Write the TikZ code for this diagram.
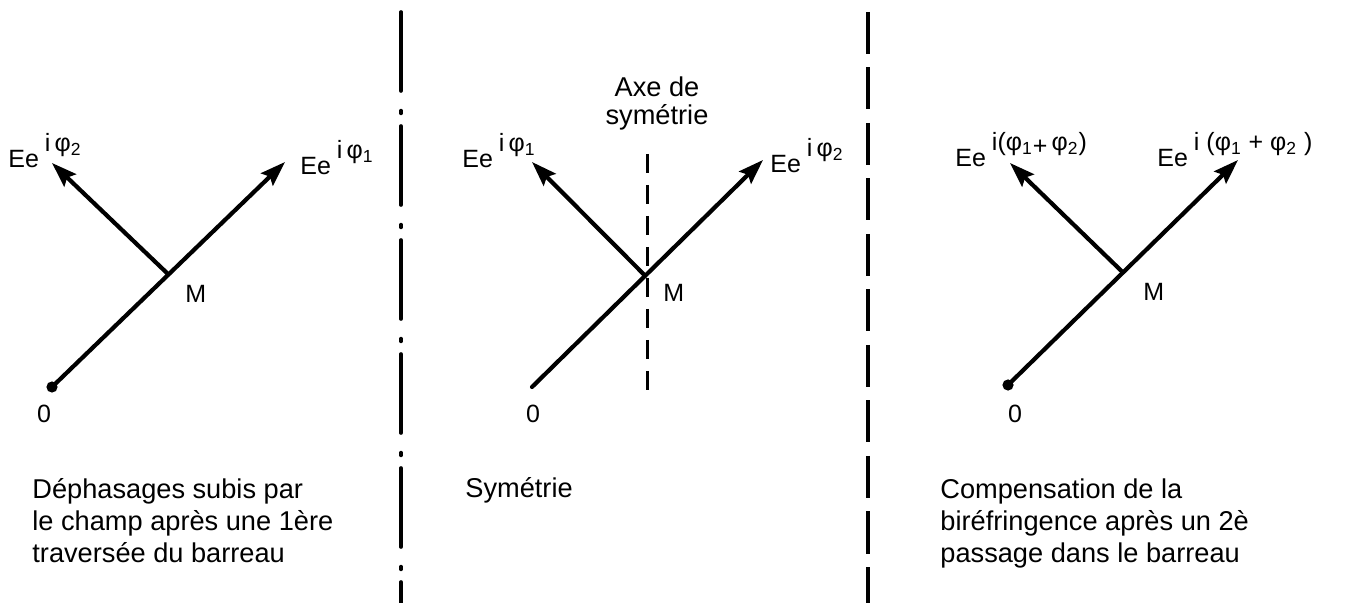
\documentclass[tikz,border=0pt]{standalone}
\usepackage{fontspec}
\setmainfont{Liberation Sans}
\usetikzlibrary{arrows.meta,calc}
\tikzset{
  vec/.style={line width=2.1pt, line cap=round, -{Stealth[length=12.5pt,width=8.5pt,inset=2pt]}},
  lbl/.style={inner sep=0pt, anchor=base west, font=\fontsize{12.5}{14}\selectfont},
  legende/.style={inner sep=0pt, align=left, anchor=base west, font=\fontsize{13.6}{16}\selectfont},
}
\newcommand{\expo}[1]{\raisebox{8pt}{\fontsize{12.5}{13}\selectfont #1}}
\newcommand{\phin}[1]{φ\textsubscript{#1}}
\begin{document}
\begin{tikzpicture}[x=0.5pt,y=-0.5pt]
    \useasboundingbox (0,0) rectangle (1348,603);
    % Separations
    \draw[line width=1.8pt, line cap=round, dash pattern=on 39.5pt off 9.8pt on 1.4pt off 6.3pt] (401,12) -- (401,610);
    \draw[line width=1.8pt, dash pattern=on 21pt off 6.75pt] (868,12) -- (868,610);

    % Premiere traversee
    \coordinate (O1) at (52,387);
    \coordinate (T1) at (285,162);
    \coordinate (M1) at ($(O1)!0.5!(T1)$);
    \coordinate (U1) at (52,163);
    \fill (O1) circle (2.8pt);
    \draw[vec] (O1) -- (T1);
    \draw[vec] (M1) -- (U1);
    \node[lbl] (m1) at (185,303) {M};
    \node[lbl, anchor=base] (o1) at (44,423) {0};
    \node[lbl] (e12) at (8,168) {Ee\hspace{3pt}\expo{i\,\phin{2}}};
    \node[lbl] (e11) at (300,175) {Ee\hspace{3pt}\expo{i\,\phin{1}}};
    \node[legende] (c1) at (32,562) {Déphasages subis par\\le champ après une 1ère\\traversée du barreau};

    % Symetrie
    \coordinate (O2) at (532,387);
    \coordinate (T2) at (763,160);
    \coordinate (M2) at ($(O2)!0.49!(T2)$);
    \coordinate (U2) at (532,162);
    \coordinate (A1) at (647,154);
    \coordinate (A2) at (647,395);
    \draw[line width=1.5pt, dash pattern=on 9.5pt off 6pt] (A1) -- (A2);
    \draw[vec] (O2) -- (T2);
    \draw[vec] (M2) -- (U2);
    \node[lbl] (m2) at (663,302) {M};
    \node[lbl, anchor=base] (o2) at (533,423) {0};
    \node[lbl] (e21) at (462,168) {Ee\hspace{3pt}\expo{i\,\phin{1}}};
    \node[lbl] (e22) at (770,173) {Ee\hspace{3pt}\expo{i\,\phin{2}}};
    \node[legende, align=center, anchor=base, font=\fontsize{13.6}{14}\selectfont] (axe) at (657,125) {Axe de\\symétrie};
    \node[legende] (c2) at (465,498) {Symétrie};

    % Compensation
    \coordinate (O3) at (1008,385);
    \coordinate (T3) at (1238,160);
    \coordinate (M3) at ($(O3)!0.5!(T3)$);
    \coordinate (U3) at (1010,163);
    \fill (O3) circle (2.8pt);
    \draw[vec] (O3) -- (T3);
    \draw[vec] (M3) -- (U3);
    \node[lbl] (m3) at (1143,301) {M};
    \node[lbl, anchor=base] (o3) at (1015,423) {0};
    \node[lbl] (e31) at (955,167) {Ee\hspace{3pt}\expo{i(\phin{1}\raisebox{-2pt}{+}\,\phin{2})}};
    \node[lbl] (e32) at (1157,167) {Ee\hspace{3pt}\expo{i\ (\phin{1} + \phin{2}\ )}};
    \node[legende] (c3) at (940,562) {Compensation de la\\biréfringence après un 2è\\passage dans le barreau};
\end{tikzpicture}
\end{document}
